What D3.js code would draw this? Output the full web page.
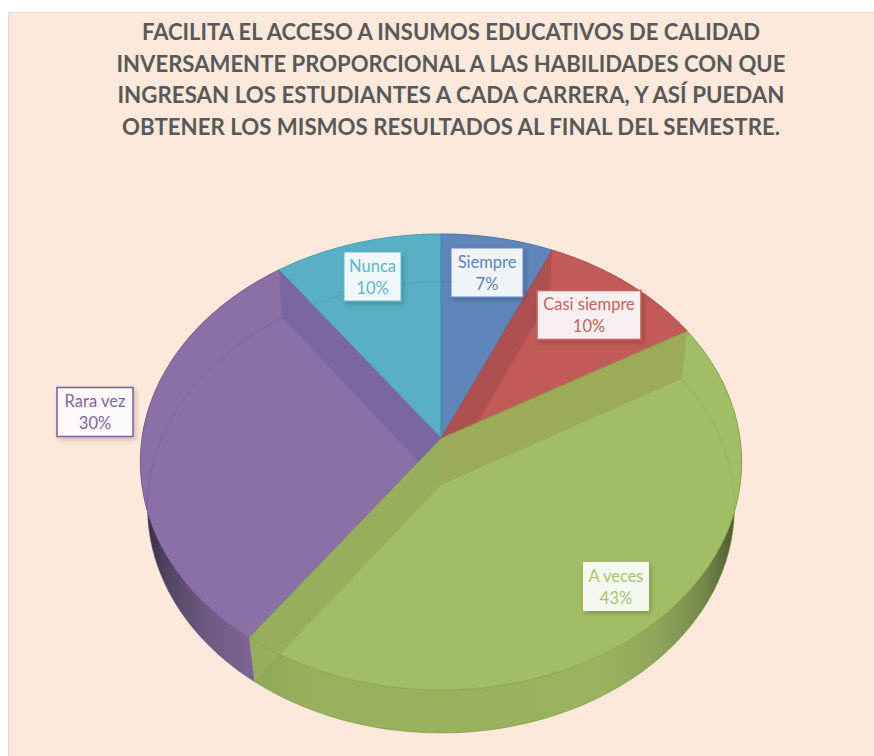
<!DOCTYPE html>
<html><head><meta charset="utf-8">
<script src="https://cdn.jsdelivr.net/npm/d3@7"></script>
<style>html,body{margin:0;padding:0;background:#fff}svg{display:block}</style>
</head><body>
<svg id="c" width="874" height="756"></svg>
<script>
const titleLines = [
  "FACILITA EL ACCESO A INSUMOS EDUCATIVOS DE CALIDAD",
  "INVERSAMENTE PROPORCIONAL A LAS HABILIDADES CON QUE",
  "INGRESAN LOS ESTUDIANTES A CADA CARRERA, Y ASÍ PUEDAN",
  "OBTENER LOS MISMOS RESULTADOS AL FINAL DEL SEMESTRE."
];
const categories = ["Siempre", "Casi siempre", "A veces", "Rara vez", "Nunca"];
const counts = [2, 3, 13, 9, 3];

// styling
const faceColors = ["#5E86BB", "#C25B57", "#A2BE64", "#8B6FA7", "#59AFC4"];
const textColors = ["#5C86C2", "#C9625E", "#A9C56F", "#8064A2", "#5DB6CC"];
const edgeColors = ["#3F6CA8", "#A84A47", "#7E9A45", "#6F5790", "#3F93A9"];
const wallStart  = ["#5E86BB", "#AE4F50", "#9CAB58", "#8B6FA7", "#59AFC4"];
const wallEnd    = ["#5E86BB", "#C25B57", "#97AF5C", "#7A66A1", "#59AFC4"];
const boxStroke  = ["#5C8ACB", "#C9605C", "#F5F6EE", "#8064A2", "#63BBD0"];
const boxStrokeW = [1, 1.6, 0, 1.6, 1];
const boxCenters = [[487, 272.5], [589, 315], [372.5, 276.5], [95, 412], [616, 586.5]];
const boxOrder   = [0, 1, 4, 3, 2];  // maps layout order to slice index
const boxWidths  = [72, 104, 57, 76, 66];

const svg = d3.select("#c");
const defs = svg.append("defs");
svg.append("rect").attr("x", 8.5).attr("y", 12.5).attr("width", 870).attr("height", 750)
   .attr("fill", "#FDE9DB").attr("stroke", "#D9D9D9");

svg.append("g").selectAll("text").data(titleLines).join("text")
  .attr("x", 451).attr("y", (d, i) => 40 + i * 31.7)
  .attr("text-anchor", "middle").attr("fill", "#595959")
  .style("font", "bold 22.6px Lato").attr("textLength", (d, i) => [618, 669, 667, 658][i])
  .attr("lengthAdjust", "spacingAndGlyphs").text(d => d);

// perspective planes: a homography that keeps straight spokes straight
const topPlane = {cx: 441, cy: 438, R: 299, a: 225.5, k: -0.105};
const botPlane = {cx: 441, cy: 485, R: 292, a: 223.3, k: -0.0998};
const pt = (p, t, f = 1) => {
  const X = Math.sin(t) * f, Y = -Math.cos(t) * f, w = 1 + p.k * Y;
  return [p.cx + p.R * X / w, p.cy + p.a * Y / w];
};
const samples = (p, a, b) => d3.range(0, 61).map(i => pt(p, a + (b - a) * i / 60));
const line = d3.line();
const closed = pts => line(pts) + "Z";

const arcs = d3.pie().sort(null).value(d => d)(counts);

// wall gradients
function grad(id, stops) {
  const g = defs.append("linearGradient").attr("id", id).attr("gradientUnits", "userSpaceOnUse")
    .attr("x1", 141).attr("x2", 742).attr("y1", 0).attr("y2", 0);
  stops.forEach(s => g.append("stop").attr("offset", (s[0] - 141) / 601).attr("stop-color", s[1]));
}
grad("w0", [[141, "#5E86BB"], [742, "#5E86BB"]]);
grad("w1", [[141, "#C25B57"], [742, "#C25B57"]]);
grad("w2", [[256, "#8CA653"], [300, "#98B05B"], [600, "#9BB35E"], [660, "#8FA35A"], [705, "#76874B"], [738, "#48552B"]]);
grad("w3", [[145, "#352C40"], [165, "#51435F"], [205, "#6D5A82"], [256, "#7F6596"]]);
grad("w4", [[141, "#59AFC4"], [742, "#59AFC4"]]);

defs.append("filter").attr("id", "sh").attr("x", "-20%").attr("y", "-20%").attr("width", "140%").attr("height", "150%")
  .append("feDropShadow").attr("dx", 2).attr("dy", 2.5).attr("stdDeviation", 2.5)
  .attr("flood-color", "#000").attr("flood-opacity", 0.22);

const facePts = d => [pt(topPlane, 0, 0), ...samples(topPlane, d.startAngle, d.endAngle)];
const wallPts = d => [...samples(topPlane, d.startAngle, d.endAngle), ...samples(botPlane, d.startAngle, d.endAngle).reverse()];
const spokePts = (t) => [pt(topPlane, t, 0), pt(topPlane, t), pt(botPlane, t), pt(botPlane, t, 0)];
const isFront = d => Math.cos((d.startAngle + d.endAngle) / 2) < 0.5;

// clip of each slice: its top face, plus its rim wall when that faces the viewer
arcs.forEach((d, i) => {
  defs.append("clipPath").attr("id", "clip" + i).append("path")
    .attr("d", closed(facePts(d)) + (isFront(d) ? closed(wallPts(d)) : ""));
});

const pie = svg.append("g");
// outer walls, only the front ones show past the top face
pie.append("g").selectAll("path").data(arcs).join("path")
  .attr("d", d => closed(wallPts(d)))
  .attr("fill", (d, i) => `url(#w${i})`)
  .attr("stroke", (d, i) => edgeColors[i]).attr("stroke-width", 0.5);

// top faces
pie.append("g").selectAll("path").data(arcs).join("path")
  .attr("d", d => closed(facePts(d)))
  .attr("fill", (d, i) => faceColors[i]);

// inner walls seen through the translucent faces
const inner = pie.append("g");
arcs.forEach((d, i) => {
  const g = inner.append("g").attr("clip-path", `url(#clip${i})`);
  g.append("path").attr("d", closed(spokePts(d.startAngle))).attr("fill", wallStart[i]);
  g.append("path").attr("d", closed(spokePts(d.endAngle))).attr("fill", wallEnd[i]);
  // lower rim seen through the face
  g.append("path").attr("d", line(samples(botPlane, d.startAngle, d.endAngle)))
   .attr("fill", "none").attr("stroke", edgeColors[i]).attr("stroke-opacity", 0.35).attr("stroke-width", 1);
});

// edges of the top faces
pie.append("g").selectAll("path").data(arcs).join("path")
  .attr("d", d => closed(facePts(d)))
  .attr("fill", "none").attr("stroke", (d, i) => edgeColors[i])
  .attr("stroke-opacity", 0.6).attr("stroke-width", 0.8);

// labels
const total = d3.sum(counts);
const labels = svg.append("g");
boxOrder.forEach((sliceIdx, layoutIdx) => {
  const [cx, cy] = boxCenters[layoutIdx], w = boxWidths[layoutIdx], h = 49;
  const g = labels.append("g");
  g.append("rect").attr("x", cx - w / 2).attr("y", cy - h / 2).attr("width", w).attr("height", h)
    .attr("fill", "#fff").attr("fill-opacity", 0.9).attr("filter", "url(#sh)")
    .attr("stroke", boxStroke[sliceIdx]).attr("stroke-width", boxStrokeW[sliceIdx]);
  const t = g.append("text").attr("text-anchor", "middle").attr("fill", textColors[sliceIdx])
    .style("font", "16.5px Lato");
  t.append("tspan").attr("x", cx).attr("y", cy - 5).text(categories[sliceIdx]);
  t.append("tspan").attr("x", cx).attr("y", cy + 17).text(d3.format(".0%")(counts[sliceIdx] / total));
});
</script>
</body></html>
